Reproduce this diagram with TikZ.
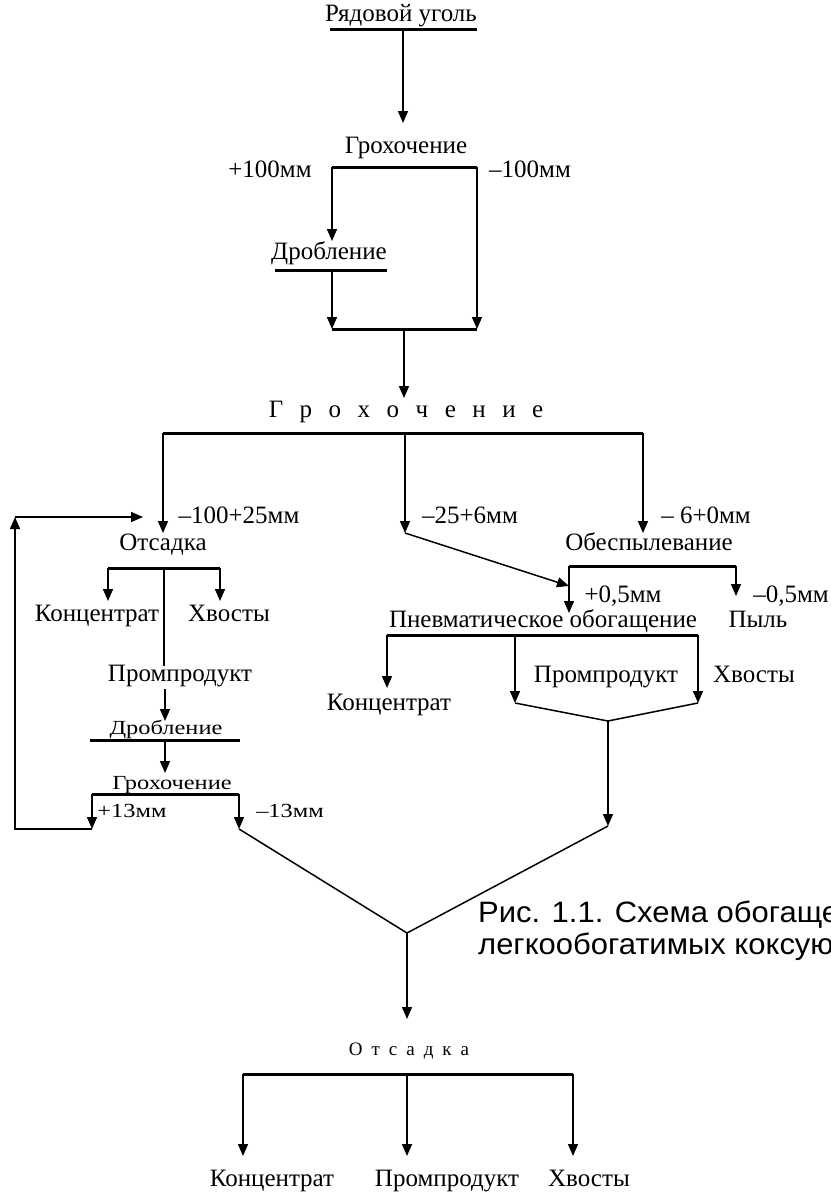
\documentclass[tikz,border=0pt]{standalone}
\usepackage{fontspec}
\setmainfont{Liberation Serif}
\newfontfamily\widefont{Liberation Serif}[FakeStretch=1.22]
\newfontfamily\capfont{Liberation Sans}[FakeStretch=1.05]
\usetikzlibrary{arrows.meta}
\newcommand\gapA{\hspace{16.5pt}}
\newcommand\gapB{\hspace{9pt}}
\begin{document}
\begin{tikzpicture}[x=1pt,y=-1pt,
  txt/.style={inner sep=0pt, text height=0.9em, text depth=0.1em, font=\fontsize{25}{27}\selectfont},
  small/.style={inner sep=0pt, text height=0.9em, text depth=0.1em, font=\widefont\fontsize{20}{22}\selectfont},
  spaced/.style={inner sep=0pt, text height=0.9em, text depth=0.1em, font=\fontsize{19}{22}\selectfont},
  flow/.style={line width=1.5pt},
  bar/.style={line width=3pt},
  arr/.style={flow, -{Triangle[length=12pt,width=10pt]}},
  captxt/.style={inner sep=0pt, anchor=west, text height=0.72em, text depth=0.2em, font=\capfont\fontsize{29.5}{31}\selectfont}]
\useasboundingbox (0,0) rectangle (830,1194);
\clip (0,0) rectangle (830,1194);

% ---------- primary screening and crushing ----------
\node[txt] (raw) at (401,17) {Рядовой уголь};
\coordinate (rawL) at (330,29); \coordinate (rawR) at (477,29);
\draw[bar] (rawL) -- (rawR);
\coordinate (rawOut) at (403,29); \coordinate (scr1In) at (403,123);
\draw[arr] (rawOut) -- (scr1In);

\node[txt] (scr1) at (406,149) {Грохочение};
\coordinate (s1L) at (332,167); \coordinate (s1R) at (477,167);
\draw[bar] (s1L) -- (s1R);
\node[txt] (p100) at (270,173) {+100мм};
\node[txt] (m100) at (530,173) {–100мм};

\coordinate (cr1In) at (332,241);
\draw[arr] (s1L) -- (cr1In);
\node[txt] (cr1) at (329,255) {Дробление};
\coordinate (cr1L) at (275,270); \coordinate (cr1R) at (387,270);
\draw[bar] (cr1L) -- (cr1R);
\coordinate (cr1Out) at (332,270); \coordinate (mixL) at (332,329);
\coordinate (mixR) at (477,329); \coordinate (mixM) at (404,329);
\draw[arr] (cr1Out) -- (mixL);
\draw[arr] (s1R) -- (mixR);
\draw[bar] (mixL) -- (mixR);
\coordinate (scr2In) at (404,398);
\draw[arr] (mixM) -- (scr2In);

% ---------- main screening ----------
\node[txt] (scr2) at (406,413) {Г\gapA р\gapA о\gapA х\gapA о\gapA ч\gapA е\gapA н\gapA и\gapA е};
\coordinate (s2L) at (163,433); \coordinate (s2M) at (405,433); \coordinate (s2R) at (643,433);
\draw[bar] (s2L) -- (s2R);
\coordinate (jig1In) at (163,533); \coordinate (midEnd) at (405,533); \coordinate (dedIn) at (643,533);
\draw[arr] (s2L) -- (jig1In);
\draw[arr] (s2M) -- (midEnd);
\draw[arr] (s2R) -- (dedIn);
\node[txt] (c100) at (239,519) {–100+25мм};
\node[txt] (c25) at (470,519) {–25+6мм};
\node[txt] (c6) at (706,519) {– 6+0мм};

% ---------- jigging of the coarse class ----------
\node[txt] (jig1) at (163,546) {Отсадка};
\coordinate (j1L) at (108,568); \coordinate (j1M) at (164,568); \coordinate (j1R) at (220,568);
\draw[bar] (j1L) -- (j1R);
\coordinate (j1Lo) at (108,601); \coordinate (j1Ro) at (220,601);
\draw[arr] (j1L) -- (j1Lo);
\draw[arr] (j1R) -- (j1Ro);
\node[txt] (j1conc) at (97,617) {Концентрат};
\node[txt] (j1tail) at (229,617) {Хвосты};
\node[txt] (j1mid) at (180,677) {Промпродукт};
\coordinate (j1MidTop) at (164,666);
\draw[flow] (j1M) -- (j1MidTop);
\coordinate (j1MidBot) at (165,689); \coordinate (cr2In) at (165,721);
\draw[arr] (j1MidBot) -- (cr2In);
\node[small] (cr2) at (166,730) {Дробление};
\coordinate (cr2L) at (90,740); \coordinate (cr2R) at (240,740);
\draw[bar] (cr2L) -- (cr2R);
\coordinate (cr2Out) at (165,740); \coordinate (scr3In) at (165,773);
\draw[arr] (cr2Out) -- (scr3In);
\node[small] (scr3) at (172,785) {Грохочение};
\coordinate (s3L) at (92,794); \coordinate (s3R) at (239,794);
\draw[bar] (s3L) -- (s3R);
\coordinate (s3Lo) at (92,829); \coordinate (s3Ro) at (239,829);
\draw[arr] (s3L) -- (s3Lo);
\draw[arr] (s3R) -- (s3Ro);
\node[small] (p13) at (132,813) {+13мм};
\node[small] (m13) at (290,813) {–13мм};

% recycle of the +13 mm oversize
\coordinate (recB) at (15,829); \coordinate (recT) at (15,517); \coordinate (recIn) at (143,517);
\draw[arr] (s3Lo) -- (recB) -- (recT);
\draw[arr] (recT) -- (recIn);

% ---------- dedusting and pneumatic cleaning ----------
\node[txt] (ded) at (649,546) {Обеспылевание};
\coordinate (dL) at (569,566); \coordinate (dR) at (736,566);
\draw[bar] (dL) -- (dR);
\coordinate (pneIn) at (569,613); \coordinate (dustIn) at (736,596);
\draw[arr] (dL) -- (pneIn);
\draw[arr] (dR) -- (dustIn);
\node[txt] (p05) at (623,598) {+0,5мм};
\node[txt] (m05) at (791,598) {–0,5мм};
\node[txt] (dust) at (758,623) {Пыль};
\coordinate (diagIn) at (569,586);
\draw[arr] (midEnd) -- (diagIn);

\node[txt] (pne) at (543,623) {Пневматическое обогащение};
\coordinate (pL) at (387,635); \coordinate (pM) at (515,635); \coordinate (pR) at (698,635);
\draw[bar] (pL) -- (pR);
\coordinate (pLo) at (387,688); \coordinate (pMo) at (515,703); \coordinate (pRo) at (698,703);
\draw[arr] (pL) -- (pLo);
\draw[arr] (pM) -- (pMo);
\draw[arr] (pR) -- (pRo);
\node[txt] (pconc) at (389,706) {Концентрат};
\node[txt] (pmid) at (606,678) {Промпродукт};
\node[txt] (ptail) at (754,678) {Хвосты};
\coordinate (pV) at (608,721); \coordinate (pDown) at (608,826);
\draw[flow] (pMo) -- (pV) -- (pRo);
\draw[arr] (pV) -- (pDown);

% ---------- joining of the fines and final jigging ----------
\coordinate (apex) at (407,933); \coordinate (jig2In) at (407,1019);
\draw[flow] (s3Ro) -- (apex) -- (pDown);
\draw[arr] (apex) -- (jig2In);

\node[spaced] (jig2) at (409,1051) {О\gapB т\gapB с\gapB а\gapB д\gapB к\gapB а};
\coordinate (j2L) at (243,1074); \coordinate (j2M) at (407,1074); \coordinate (j2R) at (573,1074);
\draw[bar] (j2L) -- (j2R);
\coordinate (j2Lo) at (243,1156); \coordinate (j2Mo) at (407,1156); \coordinate (j2Ro) at (573,1156);
\draw[arr] (j2L) -- (j2Lo);
\draw[arr] (j2M) -- (j2Mo);
\draw[arr] (j2R) -- (j2Ro);
\node[txt] (j2conc) at (272,1182) {Концентрат};
\node[txt] (j2mid) at (447,1182) {Промпродукт};
\node[txt] (j2tail) at (589,1182) {Хвосты};

% ---------- caption ----------
\node[captxt] (cap1) at (478,920) {Рис. 1.1. Схема обогащения};
\node[captxt] (cap2) at (478,952) {легкообогатимых коксующихся углей};
\end{tikzpicture}
\end{document}
